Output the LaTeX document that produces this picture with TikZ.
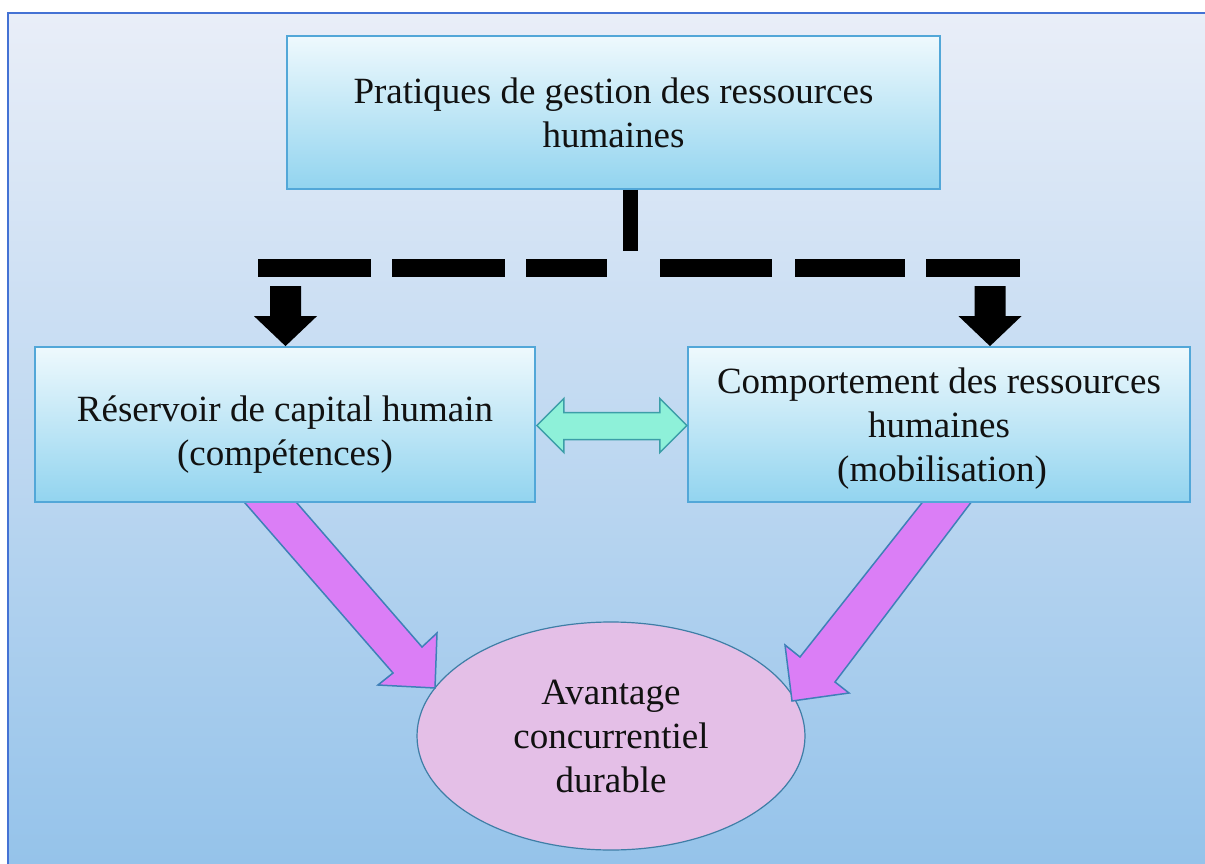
\documentclass[tikz,border=0pt]{standalone}
\usepackage{fontspec}
\setmainfont{Liberation Serif}
\usetikzlibrary{shapes.geometric,calc}
\definecolor{bgtop}{HTML}{E9EEF8}
\definecolor{bgmid}{HTML}{C6DCF1}
\definecolor{bgbot}{HTML}{95C3EA}
\definecolor{framec}{HTML}{4472D4}
\definecolor{boxtop}{HTML}{EEF9FD}
\definecolor{boxmid}{HTML}{B9E4F5}
\definecolor{boxbot}{HTML}{92D4EF}
\definecolor{boxline}{HTML}{52A7D8}
\definecolor{ellfill}{HTML}{E4BFE7}
\definecolor{ellline}{HTML}{3E7EA6}
\definecolor{purp}{HTML}{DB7EF6}
\definecolor{purpline}{HTML}{3F80B8}
\definecolor{mint}{HTML}{8EF1D9}
\definecolor{mintline}{HTML}{3C9EA8}
\definecolor{txt}{HTML}{111111}
\begin{document}
\begin{tikzpicture}[x=1pt,y=-1pt,
  txtstyle/.style={align=center,text=txt,font=\fontsize{37}{44}\selectfont,inner sep=0pt},
  gbox/.style={txtstyle,draw=boxline,line width=1.8pt,top color=boxtop,middle color=boxmid,bottom color=boxbot,rectangle},
  goal/.style={txtstyle,ellipse,draw=ellline,line width=1.2pt,fill=ellfill},
  blackarrow/.style={fill=black},
  purparrow/.style={fill=purp,draw=purpline,line width=1.5pt,line join=miter},
  mintarrow/.style={fill=mint,draw=mintline,line width=1.5pt,line join=miter},
  dashconn/.style={line width=18pt,dash pattern=on 113pt off 21pt on 113pt off 21pt on 81pt off 53pt on 112pt off 23pt on 110pt off 21pt on 94pt off 100pt}
]
\useasboundingbox (0,0) rectangle (1205,864);
\fill[white] (0,0) rectangle (1205,864);
\shade[top color=bgtop,middle color=bgmid,bottom color=bgbot] (8,13) rectangle (1205,864);
\draw[framec,line width=2pt] (8,864) -- (8,13) -- (1205,13);

% goal ellipse
\node[goal,minimum width=388pt,minimum height=228pt] (E) at (611,736)
  {Avantage\\concurrentiel\\durable};

% purple block arrows (boxes are drawn over their tails)
\draw[purparrow] (225,480) -- (393,673) -- (378,685) -- (435,688) -- (437,633) -- (422,647) -- (277,480) -- cycle;
\draw[purparrow] (940,480) -- (800,657) -- (785,645) -- (792,701) -- (849,693) -- (835,682) -- (988,480) -- cycle;

% boxes
\node[gbox,minimum width=653pt,minimum height=153pt] (top) at (613.5,112.5)
  {Pratiques de gestion des ressources\\humaines};
\node[gbox,minimum width=500pt,minimum height=155pt] (L) at (285,424.5)
  {\rule{0pt}{46pt}Réservoir de capital humain\\(compétences)};
\node[gbox,minimum width=502pt,minimum height=155pt] (R) at (939,424.5)
  {\rule{0pt}{33pt}Comportement des ressources\\humaines\\\hspace*{6pt}(mobilisation)};

% dashed connector
\coordinate (vx) at (630.5,251);
\coordinate (jL) at (258,268);
\coordinate (jR) at (1020,268);
\draw[line width=15pt] (vx |- top.south) -- (vx);
\draw[dashconn] (jL) -- (jR);

% black down arrows
\coordinate (tipL) at ($(L.north)+(0.5,0)$);
\coordinate (tipR) at ($(R.north)+(51,0)$);
\fill[blackarrow,shift={(tipL)}] (-15.5,-60) -- (15.5,-60) -- (15.5,-30) -- (31.5,-30) -- (0,0) -- (-31.5,-30) -- (-15.5,-30) -- cycle;
\fill[blackarrow,shift={(tipR)}] (-15.5,-60) -- (15.5,-60) -- (15.5,-30) -- (31.5,-30) -- (0,0) -- (-31.5,-30) -- (-15.5,-30) -- cycle;

% double arrow between L and R
\draw[mintarrow,shift={($(L.east)+(1,1)$)}] (0,0) -- (27,-27) -- (27,-13) -- (123,-13) -- (123,-27) -- (150,0) -- (123,27) -- (123,14) -- (27,14) -- (27,27) -- cycle;
\end{tikzpicture}
\end{document}
